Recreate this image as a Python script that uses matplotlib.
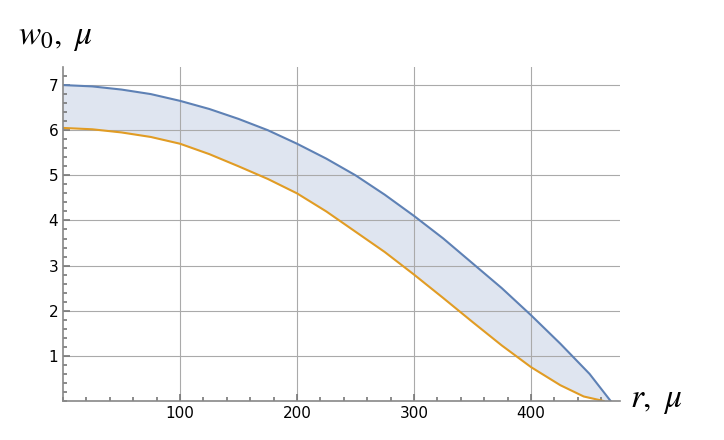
import matplotlib.pyplot as plt
import numpy as np

r_blue = [0, 25, 50, 75, 100, 125, 150, 175, 200, 225, 250, 275, 300, 325, 350, 375, 400, 425, 450, 468]
w_blue = [7.0, 6.97, 6.9, 6.8, 6.65, 6.47, 6.25, 6.0, 5.7, 5.37, 5.0, 4.57, 4.1, 3.6, 3.05, 2.5, 1.9, 1.27, 0.6, 0.0]
r_orange = [0, 25, 50, 75, 100, 125, 150, 175, 200, 225, 250, 275, 300, 325, 350, 375, 400, 425, 445, 462]
w_orange = [6.05, 6.02, 5.95, 5.85, 5.7, 5.47, 5.2, 4.92, 4.6, 4.2, 3.75, 3.3, 2.8, 2.28, 1.75, 1.23, 0.75, 0.35, 0.1, 0.0]

plt.rcParams['mathtext.fontset'] = 'stix'

fig = plt.figure(figsize=(7.24, 4.40), dpi=100)
ax = fig.add_axes([63/724, 39/440, (620-63)/724, (401-67)/440])

rb = np.linspace(0, 468, 300)
ax.fill_between(rb, np.interp(rb, r_blue, w_blue), np.interp(rb, r_orange, w_orange),
                color='#dfe5f0', lw=0)
ax.plot(r_blue, w_blue, color='#5e81b5', lw=1.5)
ax.plot(r_orange, w_orange, color='#e19c24', lw=1.5)

ax.set_xlim(0, 476)
ax.set_ylim(0, 7.4)
ax.set_xticks([100, 200, 300, 400])
ax.set_yticks(range(1, 8))
ax.set_xticks(np.arange(0, 476, 20), minor=True)
ax.set_yticks(np.arange(0, 7.4, 0.2), minor=True)
ax.grid(True, color='#aaaaaa', lw=0.8)
ax.grid(False, which='minor')
for s in ['top', 'right']:
    ax.spines[s].set_visible(False)
for s in ['left', 'bottom']:
    ax.spines[s].set_color('#888888')
    ax.spines[s].set_linewidth(1.2)
ax.tick_params(which='both', direction='in', colors='#777777', labelcolor='black', labelsize=11, width=1.2)
ax.tick_params(which='major', length=5)
ax.tick_params(which='minor', length=3)

fig.text(0.025, 0.90, r'$w_0,\ \mu$', fontsize=24)
fig.text(0.87, 0.075, r'$r,\ \mu$', fontsize=24)

fig.savefig('out.png')
